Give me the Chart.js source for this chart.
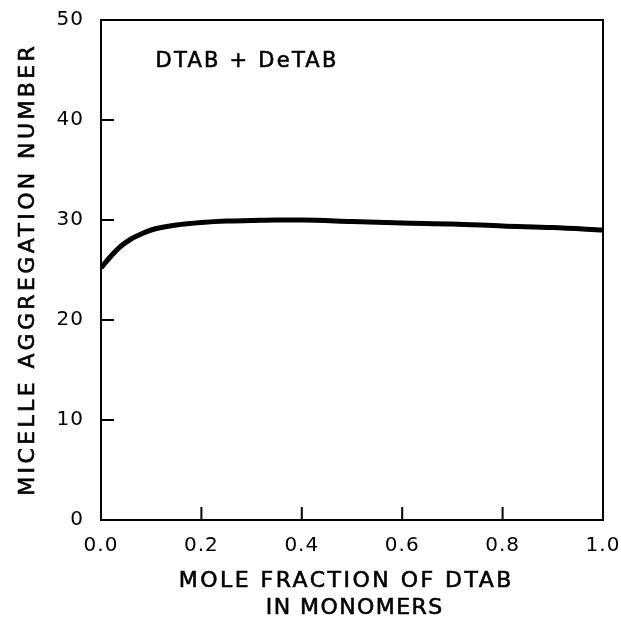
<!DOCTYPE html>
<html lang="en">
<head>
    <meta charset="UTF-8">
    <title>Micelle aggregation number</title>
    <script src="https://cdn.jsdelivr.net/npm/chart.js"></script>
    <style>
        html, body { margin: 0; padding: 0; background: #fff; }
        #wrap { width: 621px; height: 622px; }
    </style>
</head>
<body>
    <div id="wrap"><canvas id="chart" width="621" height="622"></canvas></div>

    <script>
        // mole fraction of DTAB in monomers
        const moleFraction = [0, 0.02, 0.04, 0.06, 0.08, 0.10, 0.12, 0.15, 0.20, 0.25, 0.30, 0.35, 0.40, 0.50, 0.60, 0.70, 0.80, 0.90, 1.00];
        // micelle aggregation number
        const aggNumber = [25.2, 26.4, 27.4, 28.1, 28.6, 29.0, 29.25, 29.5, 29.75, 29.9, 29.95, 30.0, 30.0, 29.85, 29.7, 29.6, 29.4, 29.25, 29.0];

        const xTicks = [0, 0.2, 0.4, 0.6, 0.8, 1.0];
        const yTicks = [0, 10, 20, 30, 40, 50];

        const xTitle = ['MOLE FRACTION OF DTAB', 'IN MONOMERS'];
        const yTitle = 'MICELLE AGGREGATION NUMBER';
        const label = 'DTAB + DeTAB';

        const FONT = '"DejaVu Sans", "Liberation Sans", sans-serif';

        // draw text stretched with letter spacing to a given width (slightly stroked, like pen lettering)
        function spacedText(ctx, text, x, y, width) {
            ctx.letterSpacing = '0px';
            const w = ctx.measureText(text).width;
            const sp = (width - w) / text.length;
            ctx.letterSpacing = sp + 'px';
            ctx.fillText(text, x + sp / 2, y);
            ctx.strokeText(text, x + sp / 2, y);
        }

        // frame, inward ticks and the lettering
        const decorations = {
            id: 'decorations',
            beforeDraw(chart) {
                chart.ctx.letterSpacing = '1px';
            },
            afterDraw(chart) {
                const { ctx, chartArea: a, scales } = chart;
                ctx.save();
                ctx.strokeStyle = '#000';
                ctx.lineWidth = 2;
                ctx.strokeRect(a.left, a.top, a.right - a.left, a.bottom - a.top);

                // inward tick marks
                const len = 13;
                ctx.beginPath();
                xTicks.slice(1, -1).forEach(v => {
                    const px = scales.x.getPixelForValue(v);
                    ctx.moveTo(px, a.bottom);
                    ctx.lineTo(px, a.bottom - len);
                });
                yTicks.slice(1, -1).forEach(v => {
                    const py = scales.y.getPixelForValue(v);
                    ctx.moveTo(a.left, py);
                    ctx.lineTo(a.left + len, py);
                });
                ctx.stroke();

                ctx.fillStyle = '#000';
                ctx.lineWidth = 0.6;
                ctx.textBaseline = 'middle';
                ctx.textAlign = 'center';

                // label inside the plot
                ctx.font = '21px ' + FONT;
                spacedText(ctx, label, 246, 62, 183);

                // x axis title
                ctx.font = '22px ' + FONT;
                spacedText(ctx, xTitle[0], 345, 581, 335);
                spacedText(ctx, xTitle[1], 354, 608, 178);

                // y axis title
                ctx.translate(28, 271);
                ctx.rotate(-Math.PI / 2);
                ctx.font = '22px ' + FONT;
                spacedText(ctx, yTitle, 0, 0, 453);
                ctx.restore();
            }
        };

        function noOverflow(scale) {
            scale.paddingLeft = 0;
            scale.paddingRight = 0;
            scale.paddingTop = 0;
            scale.paddingBottom = 0;
        }

        new Chart(document.getElementById('chart'), {
            type: 'line',
            data: {
                datasets: [{
                    data: moleFraction.map((x, i) => ({ x: x, y: aggNumber[i] })),
                    borderColor: '#000',
                    borderWidth: 5,
                    pointRadius: 0,
                    fill: false,
                    cubicInterpolationMode: 'monotone',
                }],
            },
            options: {
                responsive: false,
                animation: false,
                layout: { padding: { top: 20, right: 18, left: 0, bottom: 0 } },
                plugins: {
                    legend: { display: false },
                    tooltip: { enabled: false },
                },
                scales: {
                    x: {
                        type: 'linear',
                        min: 0,
                        max: 1,
                        afterBuildTicks(scale) { scale.ticks = xTicks.map(v => ({ value: v })); },
                        afterFit(scale) { scale.height = 102; noOverflow(scale); },
                        grid: { display: false, drawTicks: false },
                        border: { display: false },
                        ticks: {
                            padding: 14,
                            color: '#000',
                            font: { family: FONT, size: 20 },
                            callback: v => v.toFixed(1),
                        },
                    },
                    y: {
                        min: 0,
                        max: 50,
                        afterBuildTicks(scale) { scale.ticks = yTicks.map(v => ({ value: v })); },
                        afterFit(scale) { scale.width = 101; noOverflow(scale); },
                        grid: { display: false, drawTicks: false },
                        border: { display: false },
                        ticks: {
                            padding: 17,
                            color: '#000',
                            font: { family: FONT, size: 20 },
                        },
                    },
                },
            },
            plugins: [decorations],
        });
    </script>
</body>
</html>
